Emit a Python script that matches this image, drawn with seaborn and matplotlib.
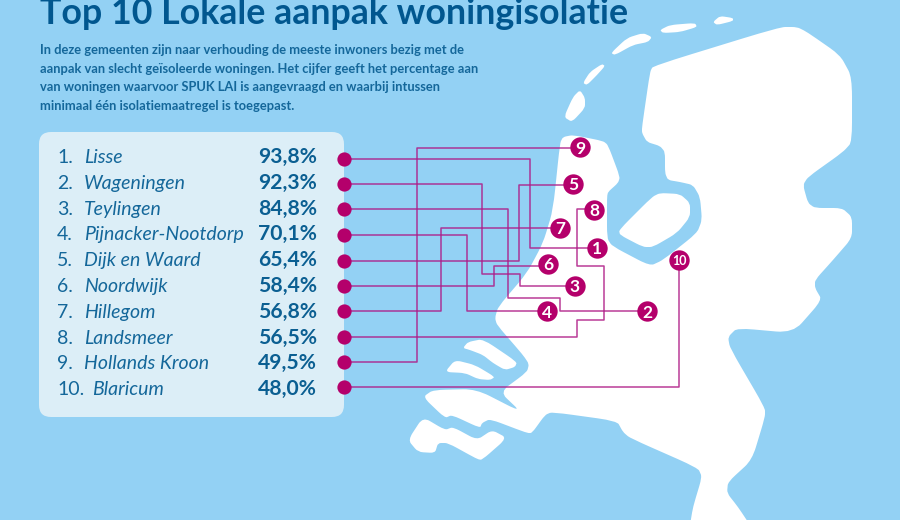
import matplotlib
matplotlib.use('Agg')
import matplotlib.pyplot as plt
import pandas as pd
import seaborn as sns
from matplotlib.patches import FancyBboxPatch, PathPatch
from matplotlib.path import Path

# list contents
ranks = ['1.', '2.', '3.', '4.', '5.', '6.', '7.', '8.', '9.', '10.']
gemeenten = ['Lisse', 'Wageningen', 'Teylingen', 'Pijnacker-Nootdorp', 'Dijk en Waard',
             'Noordwijk', 'Hillegom', 'Landsmeer', 'Hollands Kroon', 'Blaricum']
percentages = [93.8, 92.3, 84.8, 70.1, 65.4, 58.4, 56.8, 56.5, 49.5, 48.0]
row_y = [159, 184, 209, 235, 261, 286, 311, 337, 362, 387]

title = 'Top 10 Lokale aanpak woningisolatie'
intro = ['In deze gemeenten zijn naar verhouding de meeste inwoners bezig met de',
         'aanpak van slecht geïsoleerde woningen. Het cijfer geeft het percentage aan',
         'van woningen waarvoor SPUK LAI is aangevraagd en waarbij intussen',
         'minimaal één isolatiemaatregel is toegepast.']

# numbered pins on the map
pin_labels = ['1', '2', '3', '4', '5', '6', '7', '8', '9', '10']
pin_x = [597, 647, 575, 547, 573, 548, 560, 594, 580, 679]
pin_y = [248, 311, 286, 311, 184, 264, 228, 210, 147, 260]

# connector routes between list dots and pins
routes = {
    '1': [(344, 159), (530, 159), (530, 248), (597, 248)],
    '2': [(344, 209), (508, 209), (508, 298), (560, 298), (560, 311), (647, 311)],
    '3': [(344, 184), (482, 184), (482, 274), (520, 274), (520, 286), (575, 286)],
    '4': [(344, 235), (467, 235), (467, 311), (547, 311)],
    '5': [(344, 261), (519, 261), (519, 185), (573, 185)],
    '6': [(344, 286), (494, 286), (494, 266), (548, 266)],
    '7': [(344, 311), (441, 311), (441, 228), (560, 228)],
    '8': [(344, 337), (577, 337), (577, 320), (604, 320), (604, 266), (577, 266), (577, 209), (594, 209)],
    '9': [(344, 362), (417, 362), (417, 148), (580, 148)],
    '10': [(344, 387), (679, 387), (679, 260)],
}

# map outline
land = [(650, 72), (653, 66), (780, 27), (797, 27), (807, 32), (840, 55), (852, 77), (852, 142), (843, 152),
        (808, 177), (803, 185), (808, 203), (815, 208), (842, 208), (852, 217), (852, 238), (833, 260),
        (815, 280), (815, 288), (822, 300), (793, 333), (737, 328), (728, 337), (730, 348), (765, 408),
        (765, 417), (752, 460), (728, 482), (727, 493), (738, 507), (750, 525), (690, 525), (693, 507),
        (702, 477), (698, 468), (630, 438), (623, 432), (617, 421), (552, 412), (545, 415), (532, 433),
        (527, 433), (490, 419), (482, 423), (480, 428), (452, 415), (445, 418), (423, 397), (433, 390),
        (476, 389), (521, 412), (500, 392), (527, 372), (529, 364), (523, 355), (497, 325), (495, 318),
        (498, 307), (527, 273), (543, 243), (553, 210), (560, 143), (563, 137), (573, 135), (603, 141),
        (608, 145), (620, 177), (618, 183), (608, 192), (607, 197), (607, 238), (612, 246), (650, 266),
        (663, 260), (697, 233), (702, 220), (700, 197), (693, 185), (680, 182), (668, 180), (665, 173),
        (665, 152), (660, 146), (647, 142), (642, 133), (642, 127)]
flevoland = [(619, 230), (652, 197), (660, 193), (680, 194), (690, 203), (690, 217), (677, 233), (653, 247),
             (643, 247), (620, 235)]
texel = [(564, 117), (573, 97), (580, 90), (585, 98), (585, 108), (572, 122)]
vlieland = [(583, 83), (590, 72), (602, 64), (605, 66), (597, 75), (587, 85)]
terschelling = [(611, 53), (627, 38), (643, 33), (652, 37), (648, 42), (633, 45), (615, 55)]
ameland = [(660, 30), (670, 25), (695, 23), (697, 27), (680, 32), (663, 33)]
schiermonnikoog = [(713, 22), (720, 16), (733, 18), (733, 21), (717, 25)]
goeree = [(463, 348), (468, 342), (483, 339), (517, 362), (515, 367), (505, 370), (493, 363), (483, 355), (470, 350)]
schouwen = [(445, 372), (455, 360), (475, 365), (495, 377), (490, 380), (478, 379), (465, 373)]
walcheren = [(408, 440), (423, 417), (445, 430), (453, 427), (477, 440), (492, 430), (507, 438), (482, 460),
             (477, 459), (448, 443), (438, 443), (435, 453), (418, 452)]
map_shapes = [land, flevoland, texel, vlieland, terschelling, ameland, schiermonnikoog, goeree, schouwen, walcheren]

SEA = '#93D1F4'
PANEL = '#DCEEF7'
DARK_BLUE = '#01578F'
TEXT_BLUE = '#14679A'
VALUE_BLUE = '#0B5F92'
MAGENTA = '#B4006B'


def rounded_path(points, t=0.35):
    """Closed path through the points with the corners rounded off"""
    verts, codes = [], []
    n = len(points)
    for i in range(n):
        x0, y0 = points[i - 1]
        x1, y1 = points[i]
        x2, y2 = points[(i + 1) % n]
        start = (x1 + (x0 - x1) * t, y1 + (y0 - y1) * t)
        end = (x1 + (x2 - x1) * t, y1 + (y2 - y1) * t)
        verts.append(start)
        codes.append(Path.MOVETO if i == 0 else Path.LINETO)
        verts += [(x1, y1), end]
        codes += [Path.CURVE3, Path.CURVE3]
    verts.append(verts[0])
    codes.append(Path.CLOSEPOLY)
    return Path(verts, codes)


sns.set_theme(style='white')
plt.rcParams['font.family'] = ['Lato', 'DejaVu Sans']

fig = plt.figure(figsize=(9, 5.2), dpi=100, facecolor=SEA)
ax = fig.add_axes([0, 0, 1, 1])

for shape in map_shapes:
    ax.add_patch(PathPatch(rounded_path(shape, 0.3), facecolor='white', edgecolor='none', zorder=1))

ax.add_patch(FancyBboxPatch((51, 144), 281, 261, boxstyle='round,pad=12', facecolor=PANEL,
                            edgecolor='none', zorder=2))

routes_df = pd.DataFrame([(k, x, y) for k, pts in routes.items() for x, y in pts], columns=['pin', 'x', 'y'])
sns.lineplot(data=routes_df, x='x', y='y', units='pin', estimator=None, sort=False, color='#AE1A86',
             alpha=0.85, linewidth=1.1, legend=False, ax=ax, zorder=3)

dots = pd.DataFrame({'x': [344] * len(row_y), 'y': row_y})
sns.scatterplot(data=dots, x='x', y='y', s=105, color=MAGENTA, linewidth=0, legend=False, ax=ax, zorder=4)
pins = pd.DataFrame({'x': pin_x, 'y': pin_y})
sns.scatterplot(data=pins, x='x', y='y', s=215, color=MAGENTA, linewidth=0, legend=False, ax=ax, zorder=4)
ax.set_xlim(0, 900)
ax.set_ylim(520, 0)
ax.axis('off')

for label, x, y in zip(pin_labels, pin_x, pin_y):
    size = 9 if label == '10' else 12.5
    ax.text(x, y, label, color='white', fontsize=size, fontweight='bold', ha='center', va='center_baseline', zorder=5)

# the title sits against the top edge, as in the original
ax.text(40, 24, title, color=DARK_BLUE, fontsize=25.75, fontweight='bold', ha='left', va='baseline', zorder=5)
for i, line in enumerate(intro):
    ax.text(40, 54 + i * 18.6, line, color=TEXT_BLUE, fontsize=9.25, fontweight='bold', ha='left', va='baseline', zorder=5)

for i in range(len(gemeenten)):
    base_y = 163 + i * 25.8
    name_x = 92 if i == 9 else 84
    ax.text(57, base_y, ranks[i], color=TEXT_BLUE, fontsize=14, ha='left', va='baseline', zorder=5)
    ax.text(name_x, base_y, gemeenten[i], color=TEXT_BLUE, fontsize=14.05, style='italic', ha='left', va='baseline', zorder=5)
    value = f'{percentages[i]:.1f}%'.replace('.', ',')
    ax.text(317, base_y, value, color=VALUE_BLUE, fontsize=15.2, fontweight='bold', ha='right', va='baseline', zorder=5)

fig.savefig('out.png', dpi=100, facecolor=SEA)
